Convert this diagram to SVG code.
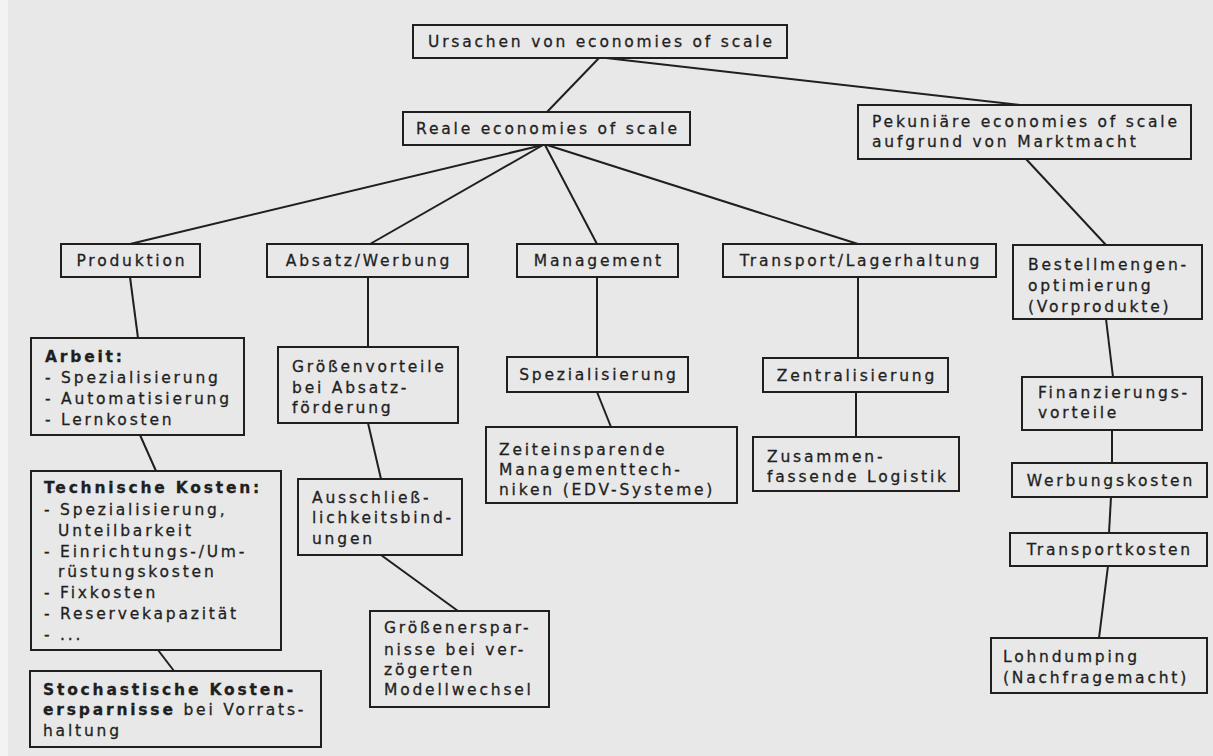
<svg xmlns="http://www.w3.org/2000/svg" width="1213" height="756" viewBox="0 0 1213 756">
  <style>
    .box { fill: none; stroke: #1f1f1f; stroke-width: 2; }
    .link { stroke: #1f1f1f; stroke-width: 2; fill: none; }
    .t { font-family: "DejaVu Sans", Verdana, sans-serif; font-size: 15.5px; letter-spacing: 2.8px; fill: #1f1f1f; stroke: #1f1f1f; stroke-width: 0.3; }
    .c { text-anchor: middle; }
    .b { font-weight: bold; }
  </style>

  <!-- paper -->
  <rect x="0" y="0" width="1213" height="756" fill="#e8e8e8"/>
  <rect x="0" y="0" width="8" height="756" fill="#f3f3f3"/>

  <!-- connectors -->
  <g id="connectors" class="link">
    <line x1="599" y1="58" x2="547" y2="112"/>
    <line x1="606" y1="58" x2="1020" y2="105"/>
    <line x1="543" y1="145" x2="130" y2="244"/>
    <line x1="543" y1="145" x2="370" y2="244"/>
    <line x1="545" y1="145" x2="597" y2="244"/>
    <line x1="547" y1="145" x2="858" y2="244"/>
    <line x1="1026" y1="159" x2="1106" y2="245"/>
    <line x1="130" y1="277" x2="138" y2="338"/>
    <line x1="140" y1="435" x2="156" y2="471"/>
    <line x1="158" y1="650" x2="174" y2="671"/>
    <line x1="368" y1="277" x2="368" y2="347"/>
    <line x1="368" y1="423" x2="381" y2="479"/>
    <line x1="381" y1="555" x2="458" y2="611"/>
    <line x1="597" y1="277" x2="597" y2="357"/>
    <line x1="597" y1="392" x2="611" y2="427"/>
    <line x1="858" y1="277" x2="858" y2="358"/>
    <line x1="856" y1="392" x2="856" y2="437"/>
    <line x1="1106" y1="319" x2="1113" y2="377"/>
    <line x1="1112" y1="430" x2="1112" y2="463"/>
    <line x1="1111" y1="497" x2="1109" y2="533"/>
    <line x1="1108" y1="566" x2="1099" y2="638"/>
  </g>

  <!-- root -->
  <g id="ursachen">
    <rect class="box" x="413" y="25" width="374" height="33"/>
    <text class="t c" x="601.4" y="47">Ursachen von economies of scale</text>
  </g>

  <g id="reale">
    <rect class="box" x="403" y="112" width="287" height="33"/>
    <text class="t c" x="547.9" y="134">Reale economies of scale</text>
  </g>

  <g id="pekuniaere">
    <rect class="box" x="858" y="105" width="333" height="54"/>
    <text class="t" x="872" y="127">Pekuniäre economies of scale</text>
    <text class="t" x="872" y="147">aufgrund von Marktmacht</text>
  </g>

  <!-- second level -->
  <g id="produktion">
    <rect class="box" x="61" y="244" width="139" height="33"/>
    <text class="t c" x="131.9" y="266">Produktion</text>
  </g>

  <g id="absatz">
    <rect class="box" x="267" y="244" width="201" height="33"/>
    <text class="t c" x="368.9" y="266">Absatz/Werbung</text>
  </g>

  <g id="management">
    <rect class="box" x="517" y="244" width="161" height="33"/>
    <text class="t c" x="598.9" y="266">Management</text>
  </g>

  <g id="transport">
    <rect class="box" x="723" y="244" width="273" height="33"/>
    <text class="t c" x="860.9" y="266">Transport/Lagerhaltung</text>
  </g>

  <g id="bestellmengen">
    <rect class="box" x="1013" y="245" width="189" height="74"/>
    <text class="t" x="1028" y="270">Bestellmengen-</text>
    <text class="t" x="1028" y="291">optimierung</text>
    <text class="t" x="1028" y="312">(Vorprodukte)</text>
  </g>

  <!-- Produktion branch -->
  <g id="arbeit">
    <rect class="box" x="31" y="338" width="213" height="97"/>
    <text class="t b" x="45" y="362">Arbeit:</text>
    <text class="t" x="45" y="383">- Spezialisierung</text>
    <text class="t" x="45" y="404">- Automatisierung</text>
    <text class="t" x="45" y="425">- Lernkosten</text>
  </g>

  <g id="technische-kosten">
    <rect class="box" x="31" y="471" width="250" height="179"/>
    <text class="t b" x="44" y="493">Technische Kosten:</text>
    <text class="t" x="44" y="515">- Spezialisierung,</text>
    <text class="t" x="58" y="536">Unteilbarkeit</text>
    <text class="t" x="44" y="557">- Einrichtungs-/Um-</text>
    <text class="t" x="58" y="577">rüstungskosten</text>
    <text class="t" x="44" y="598">- Fixkosten</text>
    <text class="t" x="44" y="619">- Reservekapazität</text>
    <text class="t" x="44" y="640">- ...</text>
  </g>

  <g id="stochastische">
    <rect class="box" x="30" y="671" width="291" height="76"/>
    <text class="t b" x="43" y="695">Stochastische Kosten-</text>
    <text class="t" x="43" y="715"><tspan class="b">ersparnisse</tspan> bei Vorrats-</text>
    <text class="t" x="43" y="736">haltung</text>
  </g>

  <!-- Absatz/Werbung branch -->
  <g id="groessenvorteile">
    <rect class="box" x="278" y="347" width="180" height="76"/>
    <text class="t" x="292" y="372">Größenvorteile</text>
    <text class="t" x="292" y="393">bei Absatz-</text>
    <text class="t" x="292" y="413">förderung</text>
  </g>

  <g id="ausschliesslichkeit">
    <rect class="box" x="298" y="479" width="164" height="76"/>
    <text class="t" x="312" y="503">Ausschließ-</text>
    <text class="t" x="312" y="523">lichkeitsbind-</text>
    <text class="t" x="312" y="544">ungen</text>
  </g>

  <g id="groessenersparnisse">
    <rect class="box" x="370" y="611" width="179" height="96"/>
    <text class="t" x="384" y="633">Größenerspar-</text>
    <text class="t" x="384" y="655">nisse bei ver-</text>
    <text class="t" x="384" y="675">zögerten</text>
    <text class="t" x="384" y="695">Modellwechsel</text>
  </g>

  <!-- Management branch -->
  <g id="spezialisierung">
    <rect class="box" x="507" y="357" width="181" height="35"/>
    <text class="t c" x="598.9" y="380">Spezialisierung</text>
  </g>

  <g id="zeiteinsparende">
    <rect class="box" x="486" y="427" width="251" height="76"/>
    <text class="t" x="499" y="455">Zeiteinsparende</text>
    <text class="t" x="499" y="475">Managementtech-</text>
    <text class="t" x="499" y="495">niken (EDV-Systeme)</text>
  </g>

  <!-- Transport branch -->
  <g id="zentralisierung">
    <rect class="box" x="763" y="358" width="185" height="34"/>
    <text class="t c" x="856.9" y="381">Zentralisierung</text>
  </g>

  <g id="zusammenfassende">
    <rect class="box" x="753" y="437" width="206" height="54"/>
    <text class="t" x="767" y="462">Zusammen-</text>
    <text class="t" x="767" y="482">fassende Logistik</text>
  </g>

  <!-- pecuniary branch -->
  <g id="finanzierung">
    <rect class="box" x="1022" y="377" width="180" height="53"/>
    <text class="t" x="1038" y="398">Finanzierungs-</text>
    <text class="t" x="1038" y="418">vorteile</text>
  </g>

  <g id="werbungskosten">
    <rect class="box" x="1012" y="463" width="195" height="34"/>
    <text class="t c" x="1110.9" y="486">Werbungskosten</text>
  </g>

  <g id="transportkosten">
    <rect class="box" x="1010" y="533" width="197" height="33"/>
    <text class="t c" x="1109.9" y="555">Transportkosten</text>
  </g>

  <g id="lohndumping">
    <rect class="box" x="991" y="638" width="216" height="55"/>
    <text class="t" x="1003" y="662">Lohndumping</text>
    <text class="t" x="1003" y="683">(Nachfragemacht)</text>
  </g>
</svg>
